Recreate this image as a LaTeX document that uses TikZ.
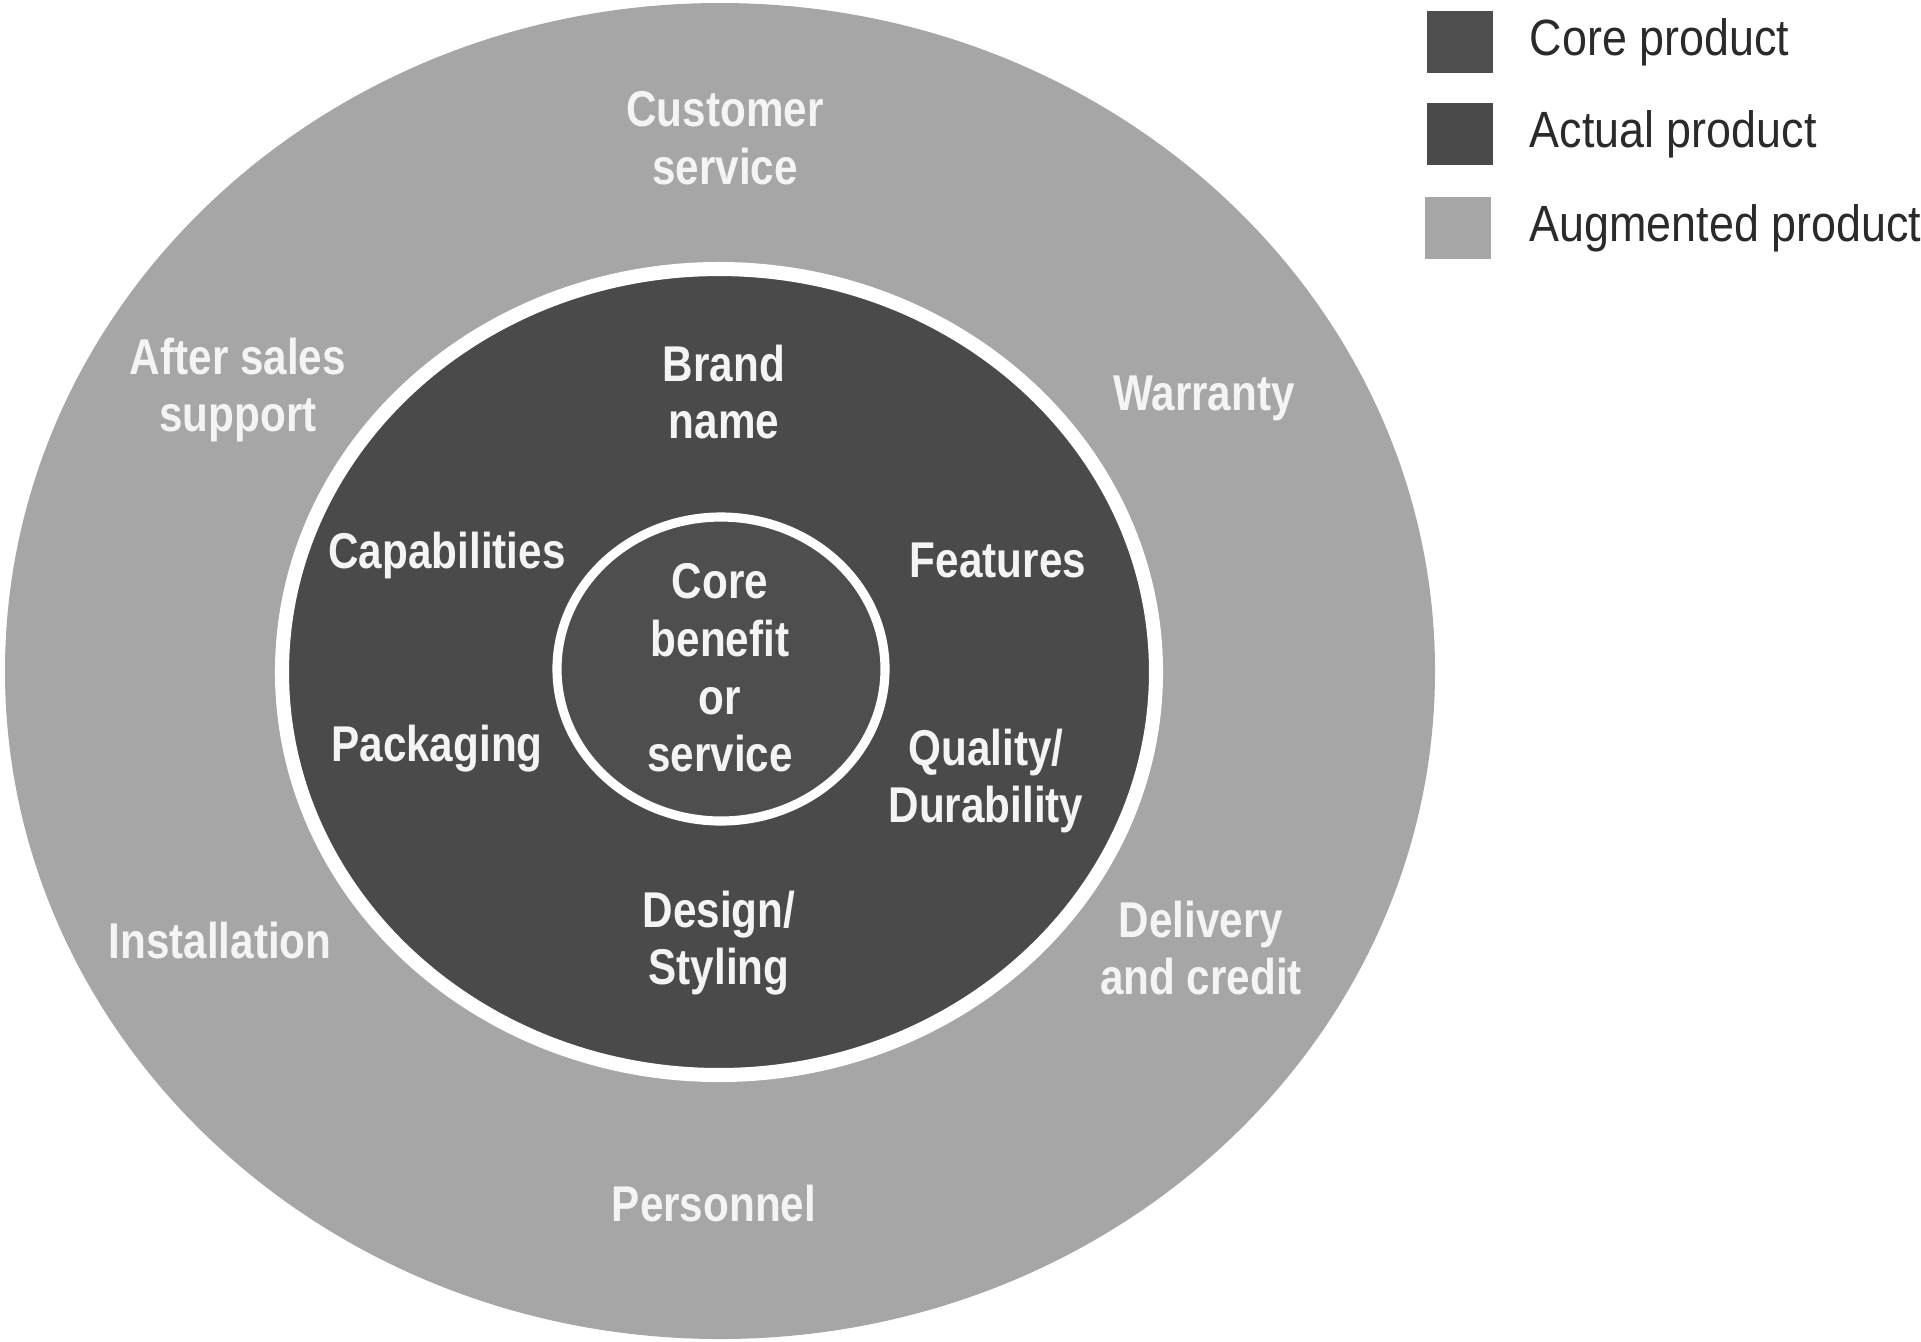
\documentclass[tikz,border=0pt]{standalone}
\usepackage{fontspec}
\newfontfamily\labelfont{Liberation Sans}[FakeStretch=0.84]
\newfontfamily\legendfont{Liberation Sans}[FakeStretch=0.88]
\definecolor{augc}{HTML}{A6A6A6}
\definecolor{actc}{HTML}{4A4A4A}
\definecolor{corec}{HTML}{4E4E4E}
\definecolor{labc}{HTML}{F4F4F4}
\definecolor{legtxt}{HTML}{2A2A2A}
\tikzset{
  lab/.style={text=labc, align=center, inner sep=0pt,
    font=\labelfont\bfseries\fontsize{14.3}{16.4}\selectfont},
  legbox/.style={minimum width=0.66cm, minimum height=0.62cm, inner sep=0pt},
  legtext/.style={anchor=west, text=legtxt, inner sep=0pt,
    font=\legendfont\fontsize{14.5}{17}\selectfont}
}
\begin{document}
\begin{tikzpicture}[x=0.01cm,y=-0.01cm]
\useasboundingbox (0,0) rectangle (1921,1341);
% rings
\fill[augc] (720,671) ellipse [x radius=715, y radius=668];
\fill[actc] (719,672) ellipse [x radius=437, y radius=403];
\draw[white, line width=4pt] (719,672) ellipse [x radius=437, y radius=403];
\fill[corec] (721,669) ellipse [x radius=164, y radius=152];
\draw[white, line width=2.6pt] (721,669) ellipse [x radius=164, y radius=152];
% outer ring labels
\node[lab] (cust) at (725,138) {Customer\\service};
\node[lab] (after) at (238,390) {After sales\\support};
\node[lab] (warr) at (1204,398) {Warranty};
\node[lab] (inst) at (220,940) {Installation};
\node[lab] (deliv) at (1201,948) {Delivery\\and credit};
\node[lab] (pers) at (714,1203) {Personnel};
% middle ring labels
\node[lab] (brand) at (724,392) {Brand\\name};
\node[lab] (capab) at (447,555) {Capabilities};
\node[lab] (feat) at (998,560) {Features};
\node[lab] (pack) at (437,749) {Packaging};
\node[lab] (qual) at (986,781) {Quality/\\Durability};
\node[lab] (design) at (719,943) {Design/\\Styling};
% core
\node[lab] (core) at (720,668) {Core\\benefit\\or\\service};
% legend
\node[legbox, fill=corec] (lg1) at (1460,42) {};
\node[legbox, fill=actc] (lg2) at (1460,134) {};
\node[legbox, fill=augc] (lg3) at (1458,228) {};
\node[legtext] (lt1) at (1529,42) {Core product};
\node[legtext] (lt2) at (1529,134) {Actual product};
\node[legtext] (lt3) at (1529,228) {Augmented product};
\end{tikzpicture}
\end{document}
